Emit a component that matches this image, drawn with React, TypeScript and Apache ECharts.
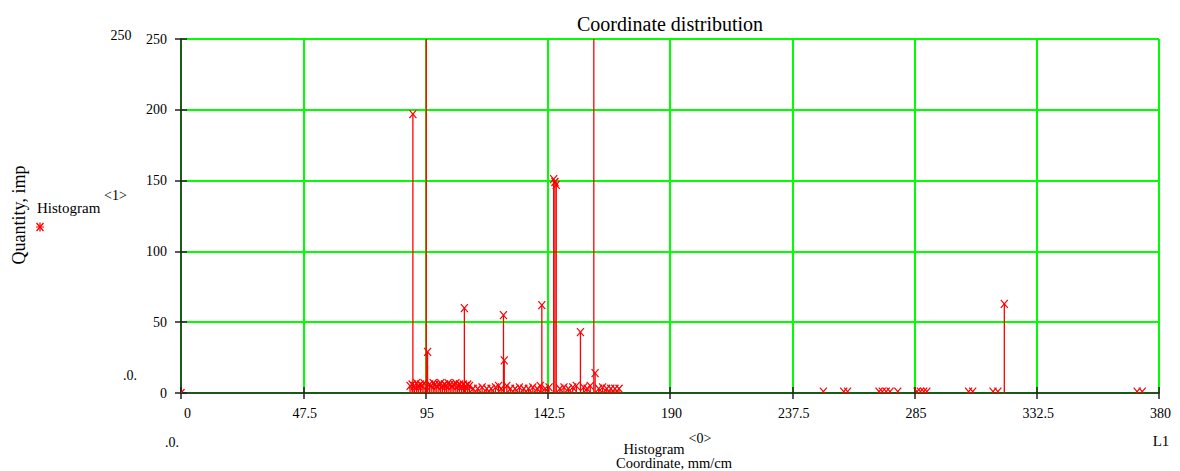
import React, { useEffect, useRef } from "react";
import * as echarts from "echarts";

// Histogram<0>: coordinate (mm/cm), Histogram<1>: quantity (imp)
const coords: number[] = [
  0,
  89.0, 89.8, 90.1, 90.7, 91.5, 92.2, 93.0, 93.7, 94.4, 95.3, 95.8, 96.5, 97.2, 98.0, 98.7, 99.4,
  100.2, 100.9, 101.6, 102.4, 103.1, 103.8, 104.6, 105.3, 106.0, 106.8, 107.5, 108.2, 109.0, 109.7,
  110.1, 110.6, 111.4, 112.1,
  113.5, 115.3, 117.0, 118.8, 120.5, 122.2, 123.4, 124.4, 125.3, 125.6, 126.6, 128.0, 129.8, 131.5,
  133.2, 135.0, 136.7, 138.4, 139.6, 140.2, 141.5, 143.0, 144.8, 145.3, 145.8, 147.2, 148.8, 150.5,
  152.2, 153.6, 155.2, 156.4, 157.8, 159.0, 160.4, 160.9, 162.3, 163.8, 165.4, 167.0, 168.6, 170.2,
  249.6, 257.5, 259.0, 271.2, 272.5, 274.0, 275.5, 278.5, 286.0, 287.3, 288.6, 289.8, 306.0, 307.6,
  315.5, 317.4, 319.9, 371.5, 373.5,
];
const counts: number[] = [
  0,
  5, 6, 197, 5, 7, 5, 6, 5, 7, 400, 29, 6, 5, 7, 6, 5,
  6, 7, 5, 6, 5, 7, 6, 5, 6, 7, 5, 6, 5, 6,
  60, 5, 6, 5,
  3, 3, 4, 3, 3, 4, 5, 3, 55, 23, 5, 3, 3, 4,
  3, 3, 4, 3, 5, 62, 3, 4, 151, 149, 147, 3, 4, 3,
  4, 5, 43, 4, 3, 5, 400, 14, 3, 4, 3, 3, 3, 3,
  1, 1, 1, 1, 1, 1, 1, 1, 1, 1, 1, 1, 1, 1,
  1, 1, 63, 1, 1,
];
const xTicks = { min: 0, max: 380, interval: 47.5 };
const yTicks = { min: 0, max: 250, interval: 50 };

const RED = "#ff0000";
const GREEN = "#00ff00";
const AXIS = "#222222";
const FONT = "'Liberation Serif', 'DejaVu Serif', serif";

export default function App() {
  const ref = useRef<HTMLDivElement>(null);
  useEffect(() => {
    if (!ref.current) return;
    const chart = echarts.init(ref.current, undefined, { renderer: "svg" });
    const data = coords.map((x, i) => [x, counts[i]]);
    const txt = (x: number, y: number, text: string, size = 14, extra: any = {}) => ({
      type: "text",
      x,
      y,
      style: { text, fill: "#000", font: `${size}px ${FONT}`, ...extra },
      silent: true,
    });
    chart.setOption({
      animation: false,
      backgroundColor: "#ffffff",
      grid: { left: 181, right: 21, top: 39, bottom: 78, containLabel: false },
      xAxis: [
        {
          type: "value",
          ...xTicks,
          axisLine: { show: true, onZero: false, lineStyle: { color: AXIS, width: 1.5 } },
          axisTick: { show: true, length: 6, lineStyle: { color: AXIS, width: 1.5 } },
          axisLabel: {
            color: "#000",
            fontFamily: FONT,
            fontSize: 14,
            margin: 13,
            alignMinLabel: "left",
            padding: [0, 0, 0, 3],
            formatter: (v: number) => String(v),
          },
          splitLine: { show: true, lineStyle: { color: GREEN, width: 2 } },
        },
        {
          type: "value",
          ...xTicks,
          position: "bottom",
          axisLine: { show: false },
          axisTick: { show: true, inside: true, length: 6, lineStyle: { color: AXIS, width: 1.5 } },
          axisLabel: { show: false },
          splitLine: { show: false },
        },
      ],
      yAxis: [
        {
          type: "value",
          ...yTicks,
          axisLine: { show: true, onZero: false, lineStyle: { color: AXIS, width: 1.5 } },
          axisTick: { show: true, length: 6, lineStyle: { color: AXIS, width: 1.5 } },
          axisLabel: { color: "#000", fontFamily: FONT, fontSize: 14, margin: 14 },
          splitLine: { show: true, lineStyle: { color: GREEN, width: 2 } },
        },
        {
          type: "value",
          ...yTicks,
          position: "left",
          axisLine: { show: false },
          axisTick: { show: true, inside: true, length: 6, lineStyle: { color: AXIS, width: 1.5 } },
          axisLabel: { show: false },
          splitLine: { show: false },
        },
      ],
      series: [
        {
          type: "custom",
          xAxisIndex: 0,
          yAxisIndex: 0,
          clip: true,
          data,
          renderItem: (params: any, api: any) => {
            const x = api.value(0);
            const y = api.value(1);
            const p0 = api.coord([x, 0]);
            const p1 = api.coord([x, y]);
            const s = 3.5;
            const children: any[] = [
              {
                type: "line",
                shape: { x1: p0[0], y1: p0[1], x2: p1[0], y2: p1[1] },
                style: { stroke: RED, lineWidth: 1.3 },
              },
            ];
            if (y <= 250) {
              children.push(
                {
                  type: "line",
                  shape: { x1: p1[0] - s, y1: p1[1] - s - 0.5, x2: p1[0] + s, y2: p1[1] + s + 0.5 },
                  style: { stroke: RED, lineWidth: 1.2 },
                },
                {
                  type: "line",
                  shape: { x1: p1[0] + s, y1: p1[1] - s - 0.5, x2: p1[0] - s, y2: p1[1] + s + 0.5 },
                  style: { stroke: RED, lineWidth: 1.2 },
                }
              );
            }
            return { type: "group", children };
          },
        },
      ],
      graphic: [
        txt(670, 24, "Coordinate distribution", 20, { align: "center", verticalAlign: "middle" }),
        txt(121, 35, "250", 14, { align: "center", verticalAlign: "middle" }),
        txt(130, 375, ".0.", 14, { align: "center", verticalAlign: "middle" }),
        txt(172, 442, ".0.", 14, { align: "center", verticalAlign: "middle" }),
        txt(1161, 441, "L1", 15, { align: "center", verticalAlign: "middle" }),
        {
          type: "text",
          x: 19,
          y: 215,
          rotation: Math.PI / 2,
          style: {
            text: "Quantity, imp",
            fill: "#000",
            font: `18px ${FONT}`,
            align: "center",
            verticalAlign: "middle",
          },
          silent: true,
        },
        txt(37, 208, "Histogram", 15, { align: "left", verticalAlign: "middle" }),
        txt(104, 195, "<1>", 14, { align: "left", verticalAlign: "middle" }),
        {
          type: "group",
          x: 40,
          y: 227,
          silent: true,
          children: [
            { type: "line", shape: { x1: -3.5, y1: -4, x2: 3.5, y2: 4 }, style: { stroke: RED, lineWidth: 1.3 } },
            { type: "line", shape: { x1: 3.5, y1: -4, x2: -3.5, y2: 4 }, style: { stroke: RED, lineWidth: 1.3 } },
            { type: "line", shape: { x1: 0, y1: -4.5, x2: 0, y2: 4.5 }, style: { stroke: RED, lineWidth: 1.3 } },
            { type: "line", shape: { x1: -4, y1: 0, x2: 4, y2: 0 }, style: { stroke: RED, lineWidth: 1 } },
          ],
        },
        txt(654, 448.5, "Histogram", 14.5, { align: "center", verticalAlign: "middle" }),
        txt(700, 438, "<0>", 14, { align: "center", verticalAlign: "middle" }),
        txt(674, 463, "Coordinate, mm/cm", 14.5, { align: "center", verticalAlign: "middle" }),
      ],
    });
    return () => chart.dispose();
  }, []);
  return (
    <div
      ref={ref}
      style={{ position: "absolute", left: 0, top: 0, width: 1180, height: 471, background: "#fff" }}
    />
  );
}
